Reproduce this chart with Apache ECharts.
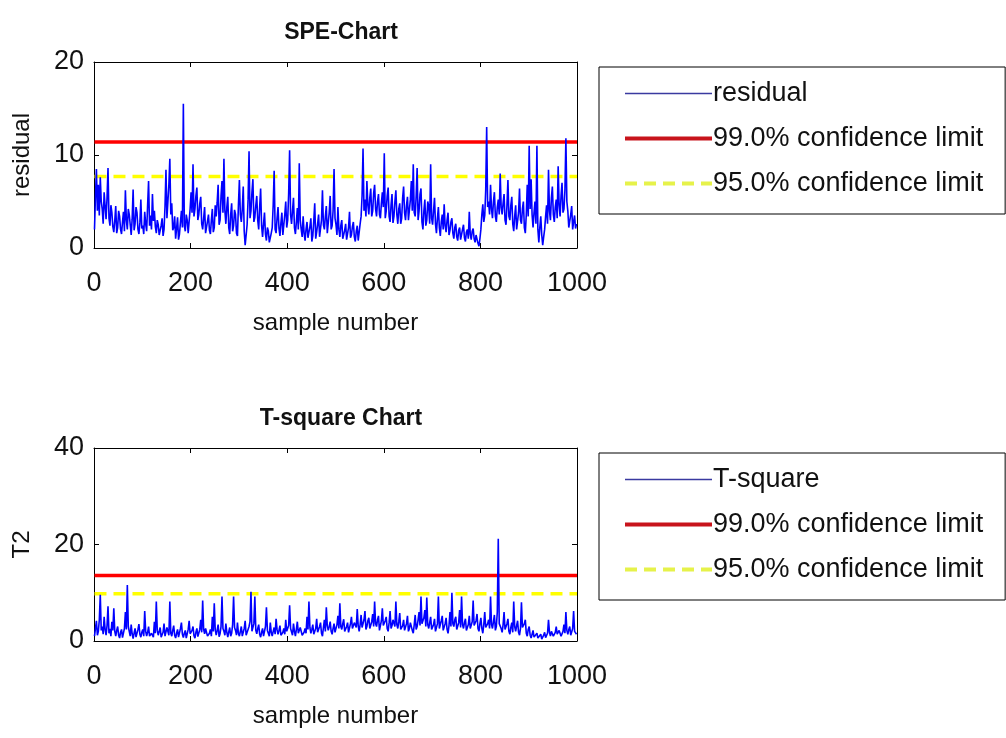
<!DOCTYPE html>
<html>
<head>
<meta charset="utf-8">
<script src="https://cdn.jsdelivr.net/npm/echarts@6/dist/echarts.min.js"></script>
<style>
  html, body { margin: 0; padding: 0; background: #fff; }
  #chart { width: 1006px; height: 738px; }
</style>
</head>
<body>
<div id="chart"></div>
<script>
// sample spacing of the values
var step = 2;
var xTicks = [0, 200, 400, 600, 800, 1000];

// SPE residual, one value every 2 samples (one row = 100 samples)
var speValues = [
  2.0, 5.5, 8.5, 4.0, 6.8, 3.5, 7.6, 5.0, 4.2, 2.6, 6.0, 4.5, 3.1, 5.4, 8.6, 3.2, 2.4, 4.6, 3.8, 2.3, 1.7, 2.9, 4.5, 1.6, 2.2, 4.0, 3.4, 2.0, 1.5, 2.8, 3.9, 1.8, 6.2, 3.0, 2.0, 4.2, 3.6, 2.5, 1.4, 3.1, 6.3, 1.9, 2.6, 4.4, 3.8, 2.0, 1.5, 2.7, 5.2, 2.1,
  2.4, 1.5, 3.9, 2.6, 1.8, 4.6, 7.2, 2.4, 3.5, 2.0, 5.8, 2.9, 4.0, 2.3, 1.6, 3.0, 2.5, 1.4, 1.2, 2.4, 3.2, 1.3, 2.0, 4.4, 8.4, 3.2, 5.0, 6.8, 9.6, 3.6, 4.8, 1.9, 2.2, 3.4, 1.0, 2.1, 3.3, 0.9, 1.5, 2.8, 4.0, 2.2, 15.5, 2.4, 1.8, 3.6, 3.0, 1.6, 1.5, 4.2,
  6.0, 3.8, 9.0, 3.4, 4.2, 5.6, 6.5, 3.0, 3.6, 4.8, 5.5, 2.6, 2.0, 3.2, 4.4, 1.6, 1.8, 2.9, 3.6, 1.9, 1.5, 3.0, 4.2, 1.7, 2.2, 4.6, 3.4, 4.9, 6.8, 2.5, 3.0, 5.6, 7.2, 3.8, 9.6, 4.0, 2.6, 4.4, 5.5, 2.2, 1.5, 3.6, 4.8, 1.8, 2.4, 4.1, 3.6, 1.6, 1.3, 4.6,
  7.3, 3.6, 2.8, 4.2, 6.6, 1.8, 0.3, 1.4, 2.5, 5.2, 10.4, 3.2, 4.0, 6.0, 7.4, 2.8, 3.3, 4.6, 5.6, 3.0, 2.0, 4.4, 6.4, 2.4, 1.2, 2.6, 3.8, 1.5, 0.8, 2.2, 1.8, 0.6, 0.7, 1.6, 2.2, 4.6, 8.3, 2.0, 1.6, 3.2, 4.4, 2.1, 1.3, 2.7, 3.8, 1.4, 2.5, 3.6, 5.0, 2.2,
  3.0, 5.8, 10.5, 3.6, 2.6, 4.0, 5.4, 2.2, 1.5, 2.8, 4.3, 2.0, 9.1, 3.0, 2.0, 1.2, 3.4, 1.6, 0.8, 2.0, 2.8, 1.1, 0.9, 2.3, 3.2, 0.7, 1.3, 2.9, 4.8, 1.0, 1.7, 2.6, 3.6, 1.2, 1.4, 3.0, 6.2, 2.5, 2.0, 3.4, 4.5, 1.6, 1.8, 3.8, 5.6, 2.0, 2.4, 4.0, 8.5, 3.2,
  2.5, 1.4, 4.4, 2.0, 1.2, 2.4, 3.0, 1.0, 0.8, 1.9, 2.6, 0.9, 1.0, 2.2, 3.9, 1.1, 1.4, 2.3, 2.8, 1.2, 0.7, 1.8, 2.4, 0.8, 1.0, 2.6, 3.4, 5.6, 10.7, 4.0, 5.2, 3.4, 7.2, 4.6, 3.6, 5.4, 6.4, 3.4, 4.0, 5.9, 6.8, 4.2, 3.4, 5.0, 5.8, 3.6, 3.2, 4.8, 6.0, 4.4,
  10.2, 3.2, 4.0, 5.6, 6.5, 3.4, 2.8, 4.6, 5.8, 2.7, 3.4, 5.0, 6.2, 3.6, 2.6, 4.2, 4.8, 2.6, 3.2, 5.4, 6.6, 3.8, 3.0, 4.6, 5.5, 3.0, 2.8, 5.2, 7.2, 4.0, 9.0, 3.8, 3.4, 5.6, 8.6, 3.0, 4.0, 5.8, 6.4, 2.8, 2.0, 4.0, 5.2, 2.4, 3.0, 5.0, 4.5, 2.6, 9.0, 3.2,
  2.5, 4.0, 5.4, 2.6, 1.6, 3.2, 4.4, 2.2, 1.3, 2.8, 3.6, 2.0, 4.7, 2.4, 1.7, 3.0, 3.8, 1.4, 1.9, 2.8, 3.2, 1.6, 1.0, 2.2, 2.6, 1.2, 0.8, 1.9, 2.2, 0.9, 1.0, 2.0, 2.5, 1.1, 0.7, 1.7, 2.0, 1.0, 3.9, 1.5, 0.9, 1.8, 2.1, 1.0, 0.6, 1.4, 1.6, 0.5, 0.2, 1.0,
  2.0, 3.6, 4.7, 2.8, 3.5, 6.2, 13.0, 4.4, 5.0, 3.6, 6.8, 4.2, 3.2, 5.0, 6.0, 3.4, 2.8, 4.4, 5.2, 3.6, 8.0, 4.4, 3.6, 4.8, 5.8, 3.0, 2.5, 4.6, 7.3, 3.4, 3.0, 4.6, 5.5, 2.6, 1.8, 3.4, 4.6, 2.0, 2.2, 3.8, 6.4, 3.0, 2.6, 4.2, 5.0, 2.2, 1.6, 3.6, 6.8, 3.4,
  11.0, 4.2, 7.4, 3.6, 2.2, 3.8, 5.0, 2.6, 11.0, 2.0, 0.6, 2.2, 3.4, 1.4, 0.3, 1.2, 2.0, 3.4, 4.6, 2.6, 8.4, 4.0, 3.0, 5.4, 6.6, 3.6, 2.8, 4.4, 5.2, 3.2, 8.8, 4.6, 3.4, 5.6, 7.0, 3.8, 4.2, 6.2, 11.8, 5.0, 4.0, 2.2, 2.4, 3.6, 4.5, 2.0, 2.8, 3.5, 2.1, 2.6
];
var speLimits = [11.4, 7.7];       // 99 %, 95 %
var speYTicks = [0, 10, 20];

// T-square, one value every 2 samples (one row = 100 samples)
var t2Values = [
  1.0, 2.6, 4.2, 1.2, 2.0, 4.4, 9.6, 2.2, 3.0, 1.4, 5.0, 2.4, 1.2, 3.2, 7.2, 1.6, 2.5, 1.0, 4.0, 2.2, 6.8, 2.0, 1.0, 2.2, 3.0, 1.2, 0.6, 1.8, 2.4, 0.7, 1.0, 2.6, 6.0, 2.4, 11.6, 3.0, 2.0, 1.0, 3.4, 1.5, 0.5, 1.6, 2.6, 0.8, 1.2, 2.4, 3.5, 1.4, 0.8, 1.8,
  2.4, 1.0, 6.2, 2.0, 1.0, 1.8, 3.0, 1.0, 0.7, 1.6, 2.0, 0.8, 4.0, 1.6, 8.2, 2.2, 1.2, 2.0, 2.8, 0.8, 0.5, 1.8, 3.6, 1.0, 1.4, 2.8, 2.5, 1.2, 8.2, 1.6, 1.0, 2.2, 3.2, 1.2, 0.6, 1.6, 2.4, 0.8, 1.2, 2.6, 3.8, 1.4, 0.7, 1.6, 2.2, 0.6, 1.0, 2.4, 4.2, 1.5,
  1.3, 2.2, 3.0, 1.1, 0.6, 1.8, 2.6, 0.9, 1.0, 2.4, 4.4, 1.8, 8.4, 2.4, 1.5, 2.6, 3.0, 1.0, 0.8, 1.6, 2.4, 1.0, 5.0, 2.0, 7.8, 2.4, 1.2, 2.2, 3.4, 0.9, 1.5, 3.0, 9.2, 2.6, 2.0, 1.2, 3.6, 1.8, 0.8, 1.9, 2.8, 1.0, 1.6, 3.4, 9.2, 2.8, 2.2, 1.2, 3.8, 1.6,
  1.0, 2.0, 3.0, 1.0, 1.4, 2.6, 4.2, 1.2, 1.8, 2.4, 3.0, 4.0, 10.2, 2.0, 2.4, 3.6, 9.2, 2.2, 1.5, 2.6, 3.4, 1.4, 0.8, 1.8, 2.6, 1.0, 1.2, 3.0, 7.0, 2.2, 2.0, 1.0, 3.8, 1.8, 1.0, 2.0, 2.8, 1.4, 4.6, 2.4, 1.4, 2.2, 3.2, 1.2, 0.9, 1.8, 2.6, 1.4, 4.4, 2.0,
  1.6, 3.2, 7.4, 2.6, 2.2, 1.2, 3.6, 2.0, 1.0, 2.4, 4.0, 1.6, 1.8, 2.8, 3.0, 1.2, 0.8, 1.8, 2.6, 1.6, 5.0, 2.4, 8.2, 2.8, 1.6, 2.4, 3.4, 1.4, 1.2, 2.6, 4.6, 1.8, 2.0, 3.0, 3.8, 1.6, 1.0, 2.8, 4.4, 2.0, 7.0, 3.2, 2.2, 3.0, 4.0, 2.0, 1.4, 2.6, 3.6, 1.8,
  2.0, 3.4, 5.2, 2.6, 7.8, 3.0, 2.4, 3.6, 4.5, 2.0, 1.6, 3.0, 3.8, 1.8, 2.0, 3.6, 5.0, 2.6, 2.4, 3.8, 4.2, 2.8, 6.6, 3.2, 2.0, 3.4, 5.4, 2.8, 2.6, 4.4, 6.2, 2.4, 3.0, 4.2, 4.8, 2.6, 2.2, 4.0, 5.6, 3.0, 8.2, 3.6, 3.0, 4.4, 5.2, 2.2, 2.4, 4.2, 6.8, 3.2,
  3.0, 4.2, 5.0, 2.6, 2.0, 3.8, 6.2, 2.6, 3.2, 4.4, 4.6, 3.0, 8.2, 3.4, 2.6, 4.0, 5.8, 2.4, 2.0, 3.2, 4.4, 2.2, 1.8, 3.6, 5.2, 2.0, 2.6, 3.8, 4.0, 2.2, 1.6, 3.4, 5.4, 2.4, 3.0, 4.4, 6.0, 3.2, 9.2, 3.6, 3.4, 4.8, 6.4, 3.0, 9.0, 3.4, 2.6, 3.8, 5.0, 2.4,
  2.2, 3.4, 4.6, 2.0, 1.8, 3.6, 9.2, 2.6, 3.0, 4.2, 5.2, 2.2, 2.4, 3.6, 4.8, 2.4, 1.6, 3.2, 6.0, 3.0, 10.0, 3.6, 3.0, 4.4, 5.0, 2.4, 2.0, 3.8, 6.4, 2.8, 9.2, 3.4, 2.6, 3.8, 4.6, 2.2, 1.8, 3.4, 5.2, 2.6, 2.4, 4.0, 8.4, 3.2, 3.0, 4.2, 5.6, 2.6, 2.0, 3.6,
  4.8, 2.6, 1.6, 3.4, 6.0, 2.8, 2.4, 3.6, 4.4, 2.6, 9.2, 3.4, 2.6, 4.0, 5.4, 2.2, 3.0, 6.0, 21.2, 3.6, 4.0, 2.6, 1.8, 3.4, 6.0, 2.4, 2.2, 3.6, 4.6, 2.0, 1.4, 2.8, 3.8, 1.8, 8.2, 3.0, 2.0, 3.2, 4.2, 1.8, 1.2, 2.6, 8.0, 2.8, 2.6, 3.6, 4.4, 1.6, 1.0, 2.4,
  3.0, 1.2, 0.6, 1.4, 2.2, 0.8, 0.4, 1.2, 1.6, 0.6, 0.3, 1.0, 1.4, 0.4, 0.5, 1.2, 1.8, 0.7, 0.4, 1.6, 4.4, 1.8, 1.0, 2.0, 2.4, 1.0, 0.8, 1.8, 3.0, 1.4, 1.2, 2.2, 2.6, 1.0, 0.9, 2.0, 3.4, 1.6, 6.0, 2.2, 1.4, 2.4, 3.0, 1.2, 1.0, 2.6, 6.2, 2.0, 2.2, 1.4
];
var t2Limits = [13.6, 9.8];
var t2YTicks = [0, 20, 40];

var legendNames1 = ['residual', '99.0% confidence limit', '95.0% confidence limit'];
var legendNames2 = ['T-square', '99.0% confidence limit', '95.0% confidence limit'];

function toPoints(values) {
  return values.map(function (v, i) { return [i * step + 1, v]; });
}
function limitLine(v) {
  return [[1, v], [1000, v]];
}

var font = '"Liberation Sans", Arial, sans-serif';
var narrow = '"Liberation Sans Narrow", "Liberation Sans", sans-serif';

function plainNumber(v) { return String(v); }

function xAxes(gridIndex) {
  var base = {
    type: 'value', gridIndex: gridIndex,
    min: xTicks[0], max: xTicks[xTicks.length - 1], interval: xTicks[1] - xTicks[0],
    splitLine: { show: false },
    axisLine: { show: true, onZero: false, lineStyle: { color: '#000', width: 1 } },
    axisTick: { show: true, inside: true, length: 5, lineStyle: { color: '#000' } }
  };
  return [
    Object.assign({}, base, {
      position: 'bottom',
      name: 'sample number', nameLocation: 'middle', nameGap: 63,
      nameTextStyle: { fontFamily: font, fontSize: 24, color: '#111' },
      axisLabel: { margin: 22, fontFamily: narrow, fontSize: 27, color: '#111', formatter: plainNumber }
    }),
    Object.assign({}, base, { position: 'top', axisLabel: { show: false } })
  ];
}
function yAxes(gridIndex, ticks, name) {
  var base = {
    type: 'value', gridIndex: gridIndex, min: ticks[0], max: ticks[ticks.length - 1],
    interval: ticks[1] - ticks[0],
    splitLine: { show: false },
    axisLine: { show: true, onZero: false, lineStyle: { color: '#000', width: 1 } },
    axisTick: { show: true, inside: true, length: 5, lineStyle: { color: '#000' } }
  };
  return [
    Object.assign({}, base, {
      position: 'left',
      name: name, nameLocation: 'middle', nameGap: 60, nameRotate: 90,
      nameTextStyle: { fontFamily: font, fontSize: 24, color: '#111' },
      axisLabel: { margin: 10, fontFamily: narrow, fontSize: 27, color: '#111', formatter: plainNumber }
    }),
    Object.assign({}, base, { position: 'right', axisLabel: { show: false } })
  ];
}

function dataSeries(name, values, xi, yi) {
  return {
    name: name, type: 'line', xAxisIndex: xi, yAxisIndex: yi,
    data: toPoints(values), symbol: 'none', z: 5,
    lineStyle: { color: '#0000ff', width: 1.6 }, itemStyle: { color: '#0000ff' },
    animation: false
  };
}
function limitSeries(name, v, xi, yi, color, dashed) {
  return {
    name: name, type: 'line', xAxisIndex: xi, yAxisIndex: yi,
    data: limitLine(v), symbol: 'none', z: 3,
    lineStyle: { color: color, width: 3.5, type: dashed ? [12, 7] : 'solid' },
    itemStyle: { color: color },
    animation: false
  };
}
function legendBox(top, names) {
  return {
    data: [
      { name: names[0], lineStyle: { color: '#3a3aa0', width: 1.4 } },
      { name: names[1], lineStyle: { color: '#c8141c', width: 4 } },
      { name: names[2], lineStyle: { color: '#e6f24a', width: 4, type: [12, 7] } }
    ],
    orient: 'vertical', left: 599, top: top,
    itemWidth: 87, itemHeight: 12, itemGap: 18,
    padding: [13, 22, 17, 24],
    borderColor: '#000', borderWidth: 1, borderRadius: 0,
    selectedMode: false,
    itemStyle: { opacity: 0 },
    textStyle: { fontFamily: font, fontSize: 27, color: '#111', padding: [0, 0, 0, -4] }
  };
}

var chart = echarts.init(document.getElementById('chart'));
var xa = xAxes(0).concat(xAxes(1));
var ya = yAxes(0, speYTicks, 'residual').concat(yAxes(1, t2YTicks, 'T2'));

var option = {
  backgroundColor: '#fff',
  animation: false,
  title: [
    { text: 'SPE-Chart', left: 336, top: 16, textAlign: 'center',
      textStyle: { fontFamily: narrow, fontSize: 23, fontWeight: 'bold', color: '#111' } },
    { text: 'T-square Chart', left: 336, top: 402, textAlign: 'center',
      textStyle: { fontFamily: narrow, fontSize: 23, fontWeight: 'bold', color: '#111' } }
  ],
  legend: [legendBox(67, legendNames1), legendBox(453, legendNames2)],
  grid: [
    { left: 94, top: 62, width: 483, height: 186, show: false },
    { left: 94, top: 448, width: 483, height: 193, show: false }
  ],
  xAxis: xa,
  yAxis: ya,
  series: [
    dataSeries('residual', speValues, 0, 0),
    limitSeries('99.0% confidence limit', speLimits[0], 0, 0, '#ff0000', false),
    limitSeries('95.0% confidence limit', speLimits[1], 0, 0, '#ffff00', true),
    dataSeries('T-square', t2Values, 2, 2),
    limitSeries('99.0% confidence limit', t2Limits[0], 2, 2, '#ff0000', false),
    limitSeries('95.0% confidence limit', t2Limits[1], 2, 2, '#ffff00', true)
  ]
};
chart.setOption(option);
</script>
</body>
</html>
